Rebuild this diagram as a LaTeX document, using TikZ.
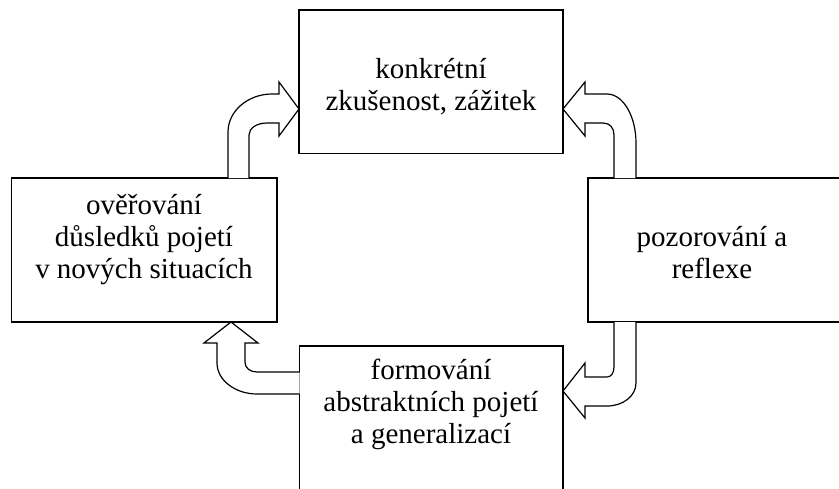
\documentclass[tikz,border=0pt]{standalone}
\usepackage{fontspec}
\setmainfont{Liberation Serif}
% text size and fixed line pitch for the box labels
\newcommand\labelfont{\fontsize{29}{32}\selectfont\lineskiplimit=-100pt\lineskip=0pt}
% strut that gives every label line the same height and depth
\newcommand\ls{\rule[-9pt]{0pt}{37pt}}
\begin{document}
\begin{tikzpicture}[x=1pt,y=-1pt,
  stagebox/.style={draw=black, line width=1.6pt, fill=white, inner sep=0pt, outer sep=0pt},
  stagetext/.style={align=center, inner sep=0pt, font=\labelfont},
  bigarrow/.style={draw=black, line width=1.2pt, fill=white, line join=miter}]
\useasboundingbox (0,0) rectangle (839,488);
\clip (0,0) rectangle (839,488);

% the four stages of the cycle
\node[stagebox, minimum width=264pt, minimum height=143.5pt] (top) at (431,81.75) {};
\node[stagebox, minimum width=265.5pt, minimum height=144pt] (left) at (144.25,250) {};
\node[stagebox, minimum width=257pt, minimum height=144pt] (right) at (716.5,250) {};
\node[stagebox, minimum width=263.5pt, minimum height=154pt] (bottom) at (431.25,423) {};

\node[stagetext] (toptext) at (431,85) {\ls konkrétní\\\ls zkušenost, zážitek};
\node[stagetext] (lefttext) at (144,237) {\ls ověřování\\\ls důsledků pojetí\\\ls v nových situacích};
\node[stagetext] (righttext) at (712,253) {\ls pozorování a\\\ls reflexe};
\node[stagetext] (bottomtext) at (431,402) {\ls formování\\\ls abstraktních pojetí\\\ls a generalizací};

% curved block arrows between the stages
\draw[bigarrow] (249,178) -- (249,135) .. controls (249,128) and (257,123) .. (267,123)
  -- (279,123) -- (279,136) -- (299,109) -- (279,82) -- (279,94) -- (272,94)
  .. controls (248,94) and (228,111) .. (228,132) -- (228,178);
\draw[bigarrow] (614,178) -- (614,135) .. controls (614,128) and (610,123) .. (603,123)
  -- (585,123) -- (585,136) -- (563,109) -- (585,82) -- (585,94) -- (607,94)
  .. controls (623,94) and (636,116) .. (636,143) -- (636,178);
\draw[bigarrow] (614,322) -- (614,367) .. controls (614,373) and (611,377) .. (607,377)
  -- (585,377) -- (585,363) -- (563,391) -- (585,418) -- (585,406) -- (607,406)
  .. controls (623,406) and (636,396) .. (636,383) -- (636,322);
\draw[bigarrow] (299.5,372) -- (257,372) .. controls (250,372) and (245,368) .. (245,362)
  -- (245,343) -- (258,343) -- (231,322) -- (204,343) -- (217,343) -- (217,363)
  .. controls (217,380) and (235,394) .. (257,394) -- (299.5,394);
\end{tikzpicture}
\end{document}
